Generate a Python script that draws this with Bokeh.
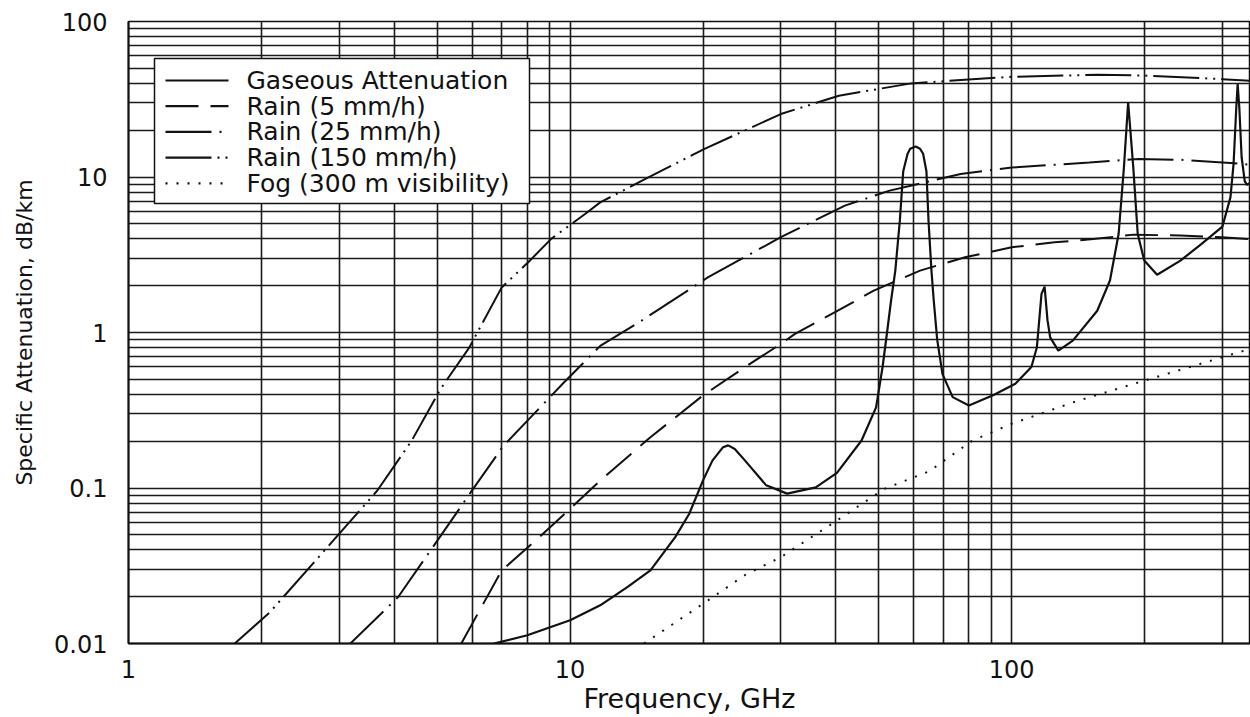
from bokeh.plotting import figure
from bokeh.models import (FixedTicker, CustomJSTickFormatter, Range1d, ColumnDataSource,
                          BoxAnnotation, Label, Arrow)
from bokeh.embed import file_html
from bokeh.resources import INLINE

# ---------------- data ----------------
gas_f = [6.72, 8.0, 10.0, 11.7, 13.5, 15.2, 17.3, 18.6, 20.0, 21.0, 22.2, 22.8, 23.6,
         24.9, 27.8, 31.0, 36.0, 40.2, 45.7, 49.3, 51.0, 52.2, 53.3, 54.5, 55.8, 56.8,
         58.1, 58.9, 60.6, 62.0, 63.0, 64.1, 64.8, 65.8, 66.6, 67.8, 69.7, 73.5, 80.0,
         91.0, 101.9, 110.8, 114.0, 116.8, 118.7, 120.5, 122.2, 127.5, 137.5, 156.2,
         166.9, 174.6, 179.5, 183.5, 188.5, 192.9, 199.6, 213.4, 241.0, 268.7, 300.0,
         312.8, 318.0, 322.5, 324.8, 327.6, 331.6, 337.0, 341.0, 347.0]
gas_A = [0.0100, 0.0113, 0.0141, 0.0176, 0.0231, 0.0295, 0.0483, 0.068, 0.112, 0.150,
         0.183, 0.188, 0.178, 0.150, 0.104, 0.092, 0.101, 0.125, 0.202, 0.33, 0.60, 1.0,
         1.6, 2.5, 5.24, 10.9, 14.1, 15.2, 15.7, 15.2, 14.1, 10.9, 5.24, 2.5, 1.6, 0.9,
         0.54, 0.384, 0.339, 0.396, 0.468, 0.60, 0.80, 1.77, 1.97, 1.2, 0.93, 0.765, 0.887,
         1.38, 2.16, 4.3, 11.5, 30.2, 11.5, 4.3, 2.9, 2.35, 2.9, 3.7, 4.8, 7.4, 12.2, 28.0,
         39.6, 28.0, 13.4, 9.4, 8.9, 9.2]

rain5_f = [5.67, 7.0, 8.5, 10.0, 11.7, 15.2, 20.0, 25.0, 30.0, 32.3, 40.0, 48.7, 62.0,
           78.4, 100.0, 125.0, 153.0, 189.0, 241.0, 299.6, 347.0]
rain5_A = [0.01, 0.0295, 0.048, 0.0736, 0.1117, 0.212, 0.394, 0.604, 0.845, 0.98, 1.36,
           1.86, 2.5, 3.05, 3.53, 3.8, 3.99, 4.26, 4.2, 4.1, 3.99]

rain25_f = [3.18, 4.08, 5.0, 5.96, 7.07, 8.2, 9.62, 11.7, 14.5, 20.5, 30.0, 41.9, 52.9,
            76.6, 100.0, 149.9, 194.0, 241.0, 312.9, 347.0]
rain25_A = [0.01, 0.0199, 0.0457, 0.094, 0.1875, 0.291, 0.468, 0.82, 1.19, 2.26, 4.1,
            6.55, 8.17, 10.45, 11.5, 12.4, 13.05, 12.9, 12.3, 12.0]

rain150_f = [1.74, 2.09, 2.91, 3.66, 4.38, 5.09, 5.91, 7.0, 8.04, 9.06, 10.83, 11.7, 15.0,
             20.1, 30.0, 40.6, 59.2, 100.0, 156.2, 199.6, 299.6, 347.0]
rain150_A = [0.01, 0.0159, 0.046, 0.0964, 0.202, 0.434, 0.80, 1.95, 2.83, 4.0, 5.8, 6.87,
             9.9, 15.1, 25.4, 33.3, 40.0, 44.1, 45.4, 44.9, 42.6, 41.6]

fog_f = [14.7, 17.0, 20.0, 25.0, 30.0, 40.2, 51.5, 65.0, 81.5, 100.0, 140.0, 200.0,
         299.6, 347.0]
fog_A = [0.01, 0.0132, 0.018, 0.0278, 0.0359, 0.0618, 0.0988, 0.128, 0.202, 0.259, 0.361,
         0.491, 0.693, 0.785]

labels = ["Gaseous Attenuation", "Rain (5 mm/h)", "Rain (25 mm/h)",
          "Rain (150 mm/h)", "Fog (300 m visibility)"]

x_major = [1, 10, 100]
y_major = [0.01, 0.1, 1, 10, 100]
x_grid = [m * d for d in (1, 10, 100) for m in range(1, 10) if m * d <= 300]
y_grid = [m * d for d in (0.01, 0.1, 1, 10) for m in range(1, 10)] + [100]

FONT = "DejaVu Sans"
INK = "#111111"

# ---------------- figure ----------------
p = figure(width=1250, height=717, x_axis_type="log", y_axis_type="log",
           x_range=Range1d(1, 347.3), y_range=Range1d(0.01, 100),
           output_backend="svg", toolbar_location=None,
           min_border_left=128, min_border_right=0, min_border_top=21,
           min_border_bottom=74)
p.background_fill_color = "white"
p.border_fill_color = "white"
p.outline_line_color = INK
p.outline_line_width = 1.5

for g, ticks in ((p.xgrid, x_grid), (p.ygrid, y_grid)):
    g.ticker = FixedTicker(ticks=ticks)
    g.grid_line_color = "#1a1a1a"
    g.grid_line_width = 1.6
    g.grid_line_alpha = 1.0

for ax, ticks in ((p.xaxis, x_major), (p.yaxis, y_major)):
    ax.ticker = FixedTicker(ticks=ticks)
    ax.formatter = CustomJSTickFormatter(code="return String(tick)")
    ax.major_tick_line_color = None
    ax.minor_tick_line_color = None
    ax.axis_line_color = INK
    ax.axis_line_width = 2
    ax.major_label_text_font = FONT
    ax.major_label_text_font_size = "24px"
    ax.major_label_text_color = INK
    ax.axis_label_text_font = FONT
    ax.axis_label_text_font_style = "normal"
    ax.axis_label_text_color = INK

p.xaxis.axis_label = "Frequency, GHz"
p.xaxis.axis_label_text_font_size = "27px"
p.xaxis.major_label_standoff = 10
p.xaxis.axis_label_standoff = 2
p.yaxis.axis_label = "Specific Attenuation, dB/km"
p.yaxis.axis_label_text_font_size = "22px"
p.yaxis.major_label_standoff = 15
p.yaxis.axis_label_standoff = 14

series = [
    (gas_f, gas_A, "solid", 2.2),
    (rain5_f, rain5_A, "33 12", 2.0),
    (rain25_f, rain25_A, "46 8 2 8", 2.0),
    (rain150_f, rain150_A, "46 6 2 6 2 6", 2.0),
    (fog_f, fog_A, "2 9", 2.0),
]
for f, a, dash, w in series:
    src = ColumnDataSource(dict(f=f, a=a))
    p.line("f", "a", source=src, line_color=INK, line_width=w, line_dash=dash)

# ---------------- legend (screen units, relative to the plot frame) ----------------
box = BoxAnnotation(left=26, right=401, top=585, bottom=440,
                    left_units="screen", right_units="screen",
                    top_units="screen", bottom_units="screen",
                    fill_color="white", fill_alpha=1.0,
                    line_color=INK, line_width=1.5, line_alpha=1.0)
p.add_layout(box)
row0, step = 563.0, 25.7
for i, ((f, a, dash, w), lab) in enumerate(zip(series, labels)):
    yy = row0 - i * step
    p.add_layout(Arrow(x_start=37, y_start=yy, x_end=100, y_end=yy,
                       start_units="screen", end_units="screen",
                       start=None, end=None, line_color=INK, line_width=2.2,
                       line_dash=dash))
    p.add_layout(Label(x=118, y=yy, x_units="screen", y_units="screen", text=lab,
                       text_font=FONT, text_font_size="25px", text_color=INK,
                       text_baseline="middle", text_align="left"))

open("out.html", "w").write(file_html(p, INLINE))
